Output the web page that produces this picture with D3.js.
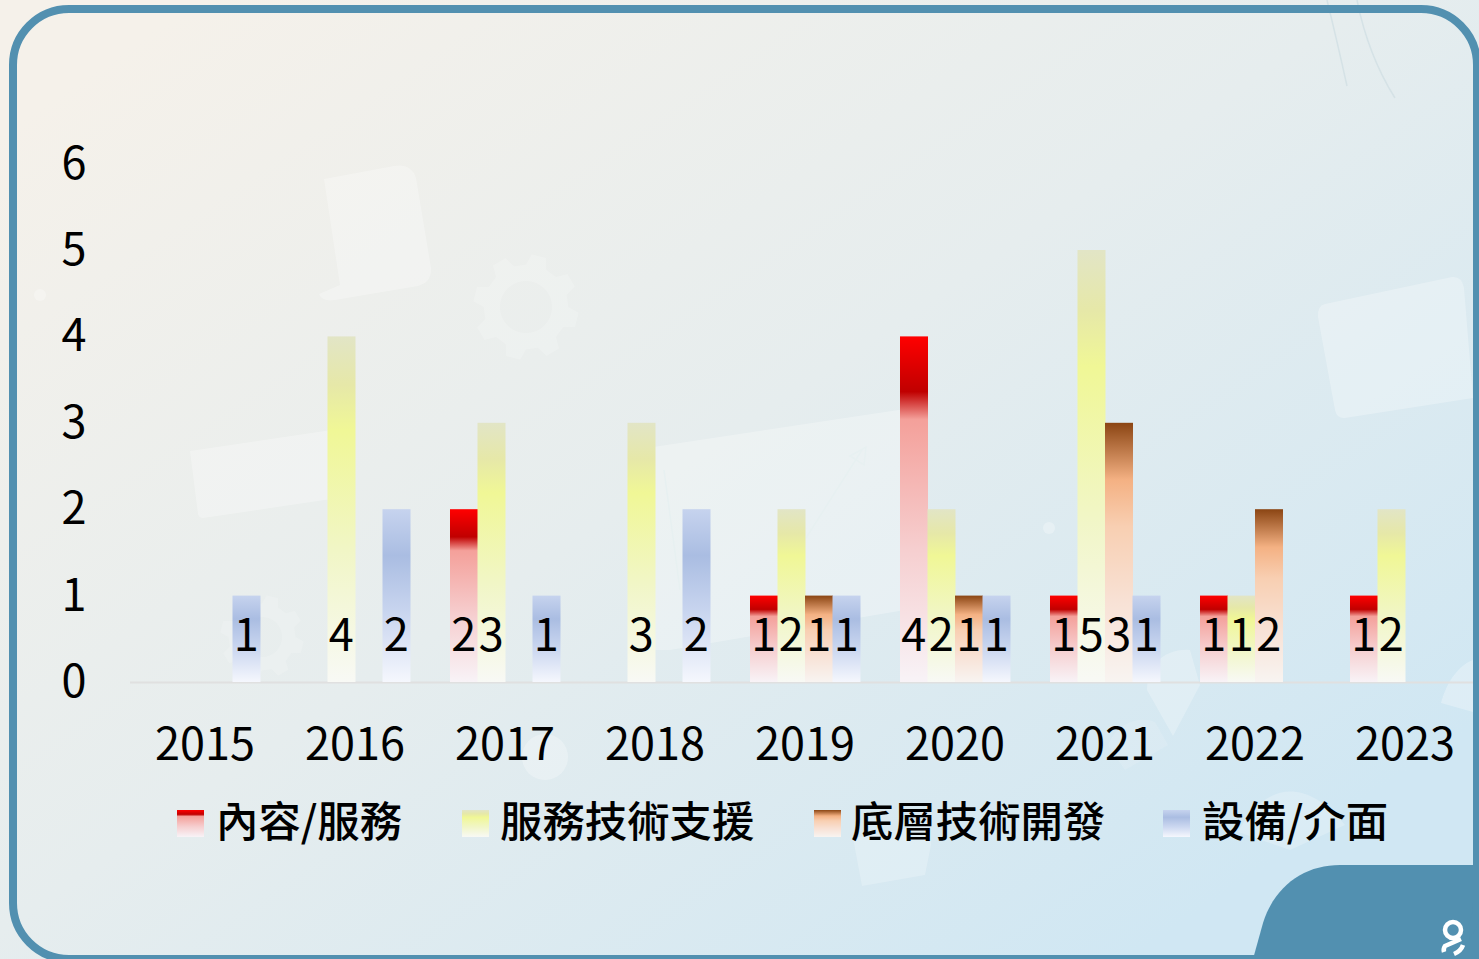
<!DOCTYPE html>
<html lang="zh-Hant">
<head>
    <meta charset="UTF-8">
    <title>內容/服務 2015-2023</title>
    <script src="https://d3js.org/d3.v7.min.js"></script>
    <style>
        html, body { margin: 0; padding: 0; overflow: hidden; }
        svg { display: block; }
        text { fill: #000; }
        .tick text { font-family: "Noto Sans CJK TC", sans-serif; font-size: 45px; fill: #000; }
        .bar-label { font-family: "Noto Sans CJK TC", sans-serif; font-size: 45px; text-anchor: middle; }
        .legend-label { font-family: "Noto Sans CJK TC", sans-serif; font-size: 42.4px; font-weight: 500; }
    </style>
</head>
<body>
<div id="chart"></div>
<script>
    // data
    var years = ["2015", "2016", "2017", "2018", "2019", "2020", "2021", "2022", "2023"];
    var seriesNames = ["內容/服務", "服務技術支援", "底層技術開發", "設備/介面"];
    var contentService = [0, 0, 2, 0, 1, 4, 1, 1, 1];
    var techSupport = [0, 4, 3, 3, 2, 2, 5, 1, 2];
    var baseTech = [0, 0, 0, 0, 1, 1, 3, 2, 0];
    var devices = [1, 2, 1, 2, 1, 1, 1, 0, 0];
    var yTicks = [0, 1, 2, 3, 4, 5, 6];

    var seriesValues = [contentService, techSupport, baseTech, devices];

    // gradient stops of each series, top to bottom
    var seriesStops = [
        [[0, "#ff0000"], [0.16, "#c00000"], [0.24, "#f4a09a"], [0.62, "#f6cfd0"], [1, "#f8f3f7"]],
        [[0, "#e2e5c6"], [0.14, "#e6e8a8"], [0.27, "#f0f796"], [0.62, "#f1f6c6"], [1, "#f8f9f5"]],
        [[0, "#8b4513"], [0.22, "#f4b183"], [0.4, "#f8cfb2"], [0.7, "#f8e2d6"], [1, "#f8f4f1"]],
        [[0, "#c6d3ee"], [0.27, "#aabde2"], [0.62, "#cbd7f0"], [1, "#f5f7fd"]]
    ];

    var width = 1479, height = 959;
    var borderColor = "#5290b0";

    var svg = d3.select("#chart").append("svg")
        .attr("width", width)
        .attr("height", height);

    var defs = svg.append("defs");

    // page background
    var bg = defs.append("linearGradient")
        .attr("id", "page-bg")
        .attr("gradientUnits", "userSpaceOnUse")
        .attr("x1", 330).attr("y1", -90)
        .attr("x2", 1070).attr("y2", 1000);
    bg.append("stop").attr("offset", 0).attr("stop-color", "#f5f1ea");
    bg.append("stop").attr("offset", 0.5).attr("stop-color", "#e6edee");
    bg.append("stop").attr("offset", 1).attr("stop-color", "#d0e7f3");

    seriesStops.forEach(function(stops, i) {
        var g = defs.append("linearGradient")
            .attr("id", "series-" + i)
            .attr("x1", 0).attr("y1", 0)
            .attr("x2", 0).attr("y2", 1);
        stops.forEach(function(s) {
            g.append("stop").attr("offset", s[0]).attr("stop-color", s[1]);
        });
    });

    svg.append("rect")
        .attr("width", width)
        .attr("height", height)
        .attr("fill", "url(#page-bg)");

    // faint decoration behind the chart
    var deco = svg.append("g").attr("fill", "#fff").attr("fill-opacity", 0.28);

    function gearPath(cx, cy, r, hole) {
        var pts = [];
        for (var t = 0; t < 8; t++) {
            var a = (t / 8) * 2 * Math.PI + 0.25;
            var w = 0.2;
            [[a - w * 1.25, r * 0.8], [a - w * 0.7, r], [a + w * 0.7, r], [a + w * 1.25, r * 0.8]].forEach(function(p) {
                pts.push([cx + p[1] * Math.cos(p[0]), cy + p[1] * Math.sin(p[0])]);
            });
        }
        var d = "M" + pts.map(function(p) { return p[0].toFixed(1) + "," + p[1].toFixed(1); }).join("L") + "Z";
        d += "M" + (cx - hole) + "," + cy + "a" + hole + "," + hole + " 0 1,0 " + (2 * hole) + ",0a" + hole + "," + hole + " 0 1,0 " + (-2 * hole) + ",0Z";
        return d;
    }

    deco.append("path").attr("fill-rule", "evenodd").attr("fill-opacity", 0.18).attr("d", gearPath(526, 307, 53, 26));
    deco.append("path").attr("fill-rule", "evenodd").attr("fill-opacity", 0.16).attr("d", gearPath(262, 637, 42, 20));
    deco.append("path").attr("d", "M324,179 L394,166 Q411,163 416,178 L431,268 Q432,282 418,286 L335,300 Q322,302 319,294 L340,285 Z");
    deco.append("path").attr("d", "M190,451 L345,428 L345,497 L203,518 Q199,518 198,514 Z");
    deco.append("path").attr("d", "M640,449 L905,409 L905,610 L670,650 L640,650 Z");
    deco.append("path").attr("d", "M1325,304 L1452,277 Q1462,276 1464,288 L1473,398 L1345,418 Q1337,419 1335,410 L1318,317 Q1317,306 1325,304 Z");
    deco.append("path").attr("fill-opacity", 0.25).attr("d", "M1147,690 C1147,665 1165,648 1190,650 L1200,685 L1173,736 Z");
    deco.append("path").attr("fill-opacity", 0.12).attr("d", "M1108,745 C1118,722 1140,716 1155,722 L1168,745 L1125,770 Z");
    deco.append("path").attr("fill-opacity", 0.22).attr("d", "M1238,832 C1260,790 1300,770 1345,825 L1290,850 Z");
    deco.append("path").attr("d", "M1441,703 C1447,680 1460,665 1473,660 L1473,712 Z");
    deco.append("path").attr("fill-opacity", 0.22).attr("d", "M853,838 L925,825 Q932,825 931,845 L925,875 L862,886 Z");
    deco.append("circle").attr("cx", 40).attr("cy", 295).attr("r", 6);
    deco.append("circle").attr("cx", 1049).attr("cy", 528).attr("r", 6);
    deco.append("circle").attr("cx", 545).attr("cy", 757).attr("r", 23);

    var decoLines = svg.append("g").attr("fill", "none");
    decoLines.append("path").attr("d", "M1327,0 Q1338,45 1347,86 M1357,0 Q1368,55 1395,98")
        .attr("stroke", "#d5e2e6").attr("stroke-width", 1.5);
    decoLines.append("path").attr("d", "M664,470 L680,590 M806,538 L862,450 M850,456 L866,447 L864,465 Z")
        .attr("stroke", "#e7f0f1").attr("stroke-width", 1.5);

    // scales
    var x = d3.scaleBand().domain(years).range([130, 1480]);
    var groupWidth = 110;
    var inner = d3.scaleBand()
        .domain(d3.range(seriesNames.length))
        .range([(x.bandwidth() - groupWidth) / 2, (x.bandwidth() + groupWidth) / 2]);
    var y = d3.scaleLinear().domain([0, 6]).range([682, 163.6]);

    // axes
    var yAxis = d3.axisLeft(y).tickValues(yTicks).tickFormat(d3.format("d")).tickSize(0).tickPadding(43.5);
    var gy = svg.append("g").attr("transform", "translate(130,0)").call(yAxis);
    gy.select(".domain").remove();

    var xAxis = d3.axisBottom(x).tickSize(0).tickPadding(46);
    var gx = svg.append("g").attr("transform", "translate(0," + y(0) + ")").call(xAxis);
    gx.select(".domain").remove();

    svg.append("line")
        .attr("x1", 130).attr("x2", 1473)
        .attr("y1", y(0) + 0.5).attr("y2", y(0) + 0.5)
        .attr("stroke", "#e0e0e0")
        .attr("stroke-width", 2);

    // bars
    var groups = svg.selectAll("g.series")
        .data(seriesValues)
        .enter().append("g")
        .attr("class", "series")
        .attr("fill", function(d, i) { return "url(#series-" + i + ")"; });

    groups.each(function(values, s) {
        d3.select(this).selectAll("rect")
            .data(values.map(function(v, i) { return { year: years[i], value: v }; })
                .filter(function(d) { return d.value > 0; }))
            .enter().append("rect")
            .attr("x", function(d) { return x(d.year) + inner(s); })
            .attr("y", function(d) { return y(d.value); })
            .attr("width", inner.bandwidth() + 0.5)
            .attr("height", function(d) { return y(0) - y(d.value); });
    });

    // value labels sit at a fixed height near the base
    groups.each(function(values, s) {
        d3.select(this).selectAll("text")
            .data(values.map(function(v, i) { return { year: years[i], value: v }; })
                .filter(function(d) { return d.value > 0; }))
            .enter().append("text")
            .attr("class", "bar-label")
            .attr("x", function(d) { return x(d.year) + inner(s) + inner.bandwidth() / 2; })
            .attr("y", y(0) - 31)
            .text(function(d) { return d.value; });
    });

    // legend
    var legendSwatchX = [177, 462, 814, 1163];
    var legendTextX = [216, 500, 851, 1202];
    var legend = svg.selectAll("g.legend")
        .data(seriesNames)
        .enter().append("g")
        .attr("class", "legend");
    legend.append("rect")
        .attr("x", function(d, i) { return legendSwatchX[i]; })
        .attr("y", 810)
        .attr("width", 27)
        .attr("height", 27)
        .attr("fill", function(d, i) { return "url(#series-" + i + ")"; });
    legend.append("text")
        .attr("class", "legend-label")
        .attr("x", function(d, i) { return legendTextX[i]; })
        .attr("y", 836.5)
        .text(function(d) { return d; });

    // frame and corner tab
    svg.append("path")
        .attr("d", "M1253,959 L1263,923 C1275,885 1305,865 1340,865 L1479,865 L1479,959 Z")
        .attr("fill", borderColor);
    svg.append("rect")
        .attr("x", 13).attr("y", 9)
        .attr("width", 1464).attr("height", 950)
        .attr("rx", 56).attr("ry", 56)
        .attr("fill", "none")
        .attr("stroke", borderColor)
        .attr("stroke-width", 8);

    // small white mark in the tab
    var mark = svg.append("g").attr("fill", "none").attr("stroke", "#fff").attr("stroke-width", 4.5);
    mark.append("circle").attr("cx", 1453).attr("cy", 930).attr("r", 8);
    mark.append("path").attr("d", "M1461,939 L1445,946 Q1443,949 1444,952");
    mark.append("path").attr("d", "M1463,945 Q1461,951 1454,954");
</script>
</body>
</html>
